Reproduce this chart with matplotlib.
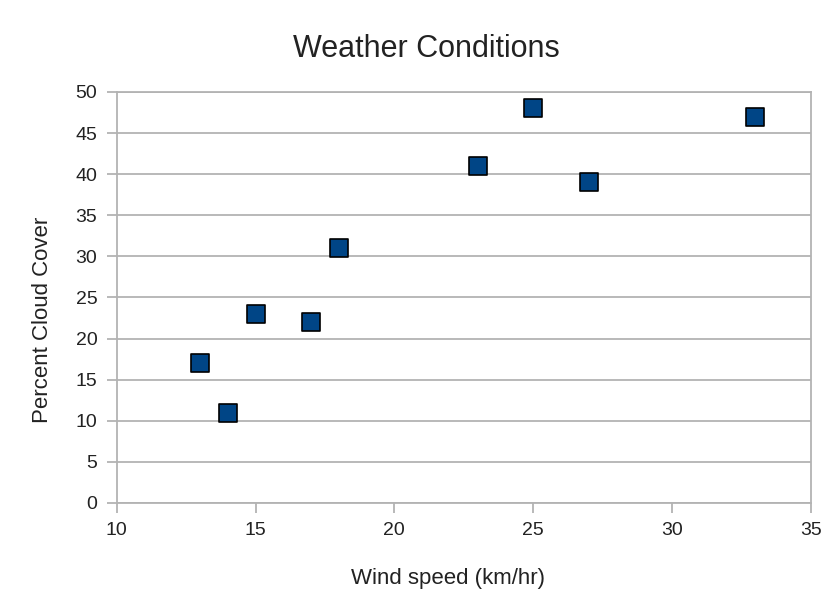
import matplotlib
matplotlib.use("Agg")
import matplotlib.pyplot as plt

wind_speed = [13, 14, 15, 17, 18, 23, 25, 27, 33]
cloud_cover = [17, 11, 23, 22, 31, 41, 48, 39, 47]

x_ticks = [10, 15, 20, 25, 30, 35]
y_ticks = [0, 5, 10, 15, 20, 25, 30, 35, 40, 45, 50]

plt.rcParams["font.family"] = ["Liberation Sans", "DejaVu Sans"]

fig = plt.figure(figsize=(8.4, 6), dpi=100)
ax = fig.add_axes([0.139, 0.1617, 0.826, 0.685])

grid_col = "#b3b3b3"
text_col = "#222222"
ax.scatter(wind_speed, cloud_cover, marker="s", s=185, color="#004586",
           edgecolors="black", linewidths=1.2, zorder=3, clip_on=False)

ax.set_xlim(10, 35)
ax.set_ylim(0, 50)
ax.set_xticks(x_ticks)
ax.set_yticks(y_ticks)
ax.grid(axis="y", color=grid_col, linewidth=1.3)
ax.set_axisbelow(True)

for side in ["left", "bottom", "top", "right"]:
    ax.spines[side].set_color(grid_col)
    ax.spines[side].set_linewidth(1.3)

ax.tick_params(axis="both", colors=grid_col, length=7.5, width=1.3,
               labelcolor=text_col, labelsize=14)
ax.tick_params(axis="x", pad=6)
ax.tick_params(axis="y", pad=6.5)

fig.text(0.507, 0.918, "Weather Conditions", fontsize=22, color=text_col,
         ha="center", va="center")
ax.set_xlabel("Wind speed (km/hr)", fontsize=16, color=text_col)
ax.set_ylabel("Percent Cloud Cover", fontsize=16, color=text_col)
ax.xaxis.set_label_coords(0.477, -0.158)
ax.yaxis.set_label_coords(-0.092, 0.445)

fig.savefig("out.png", dpi=100)
